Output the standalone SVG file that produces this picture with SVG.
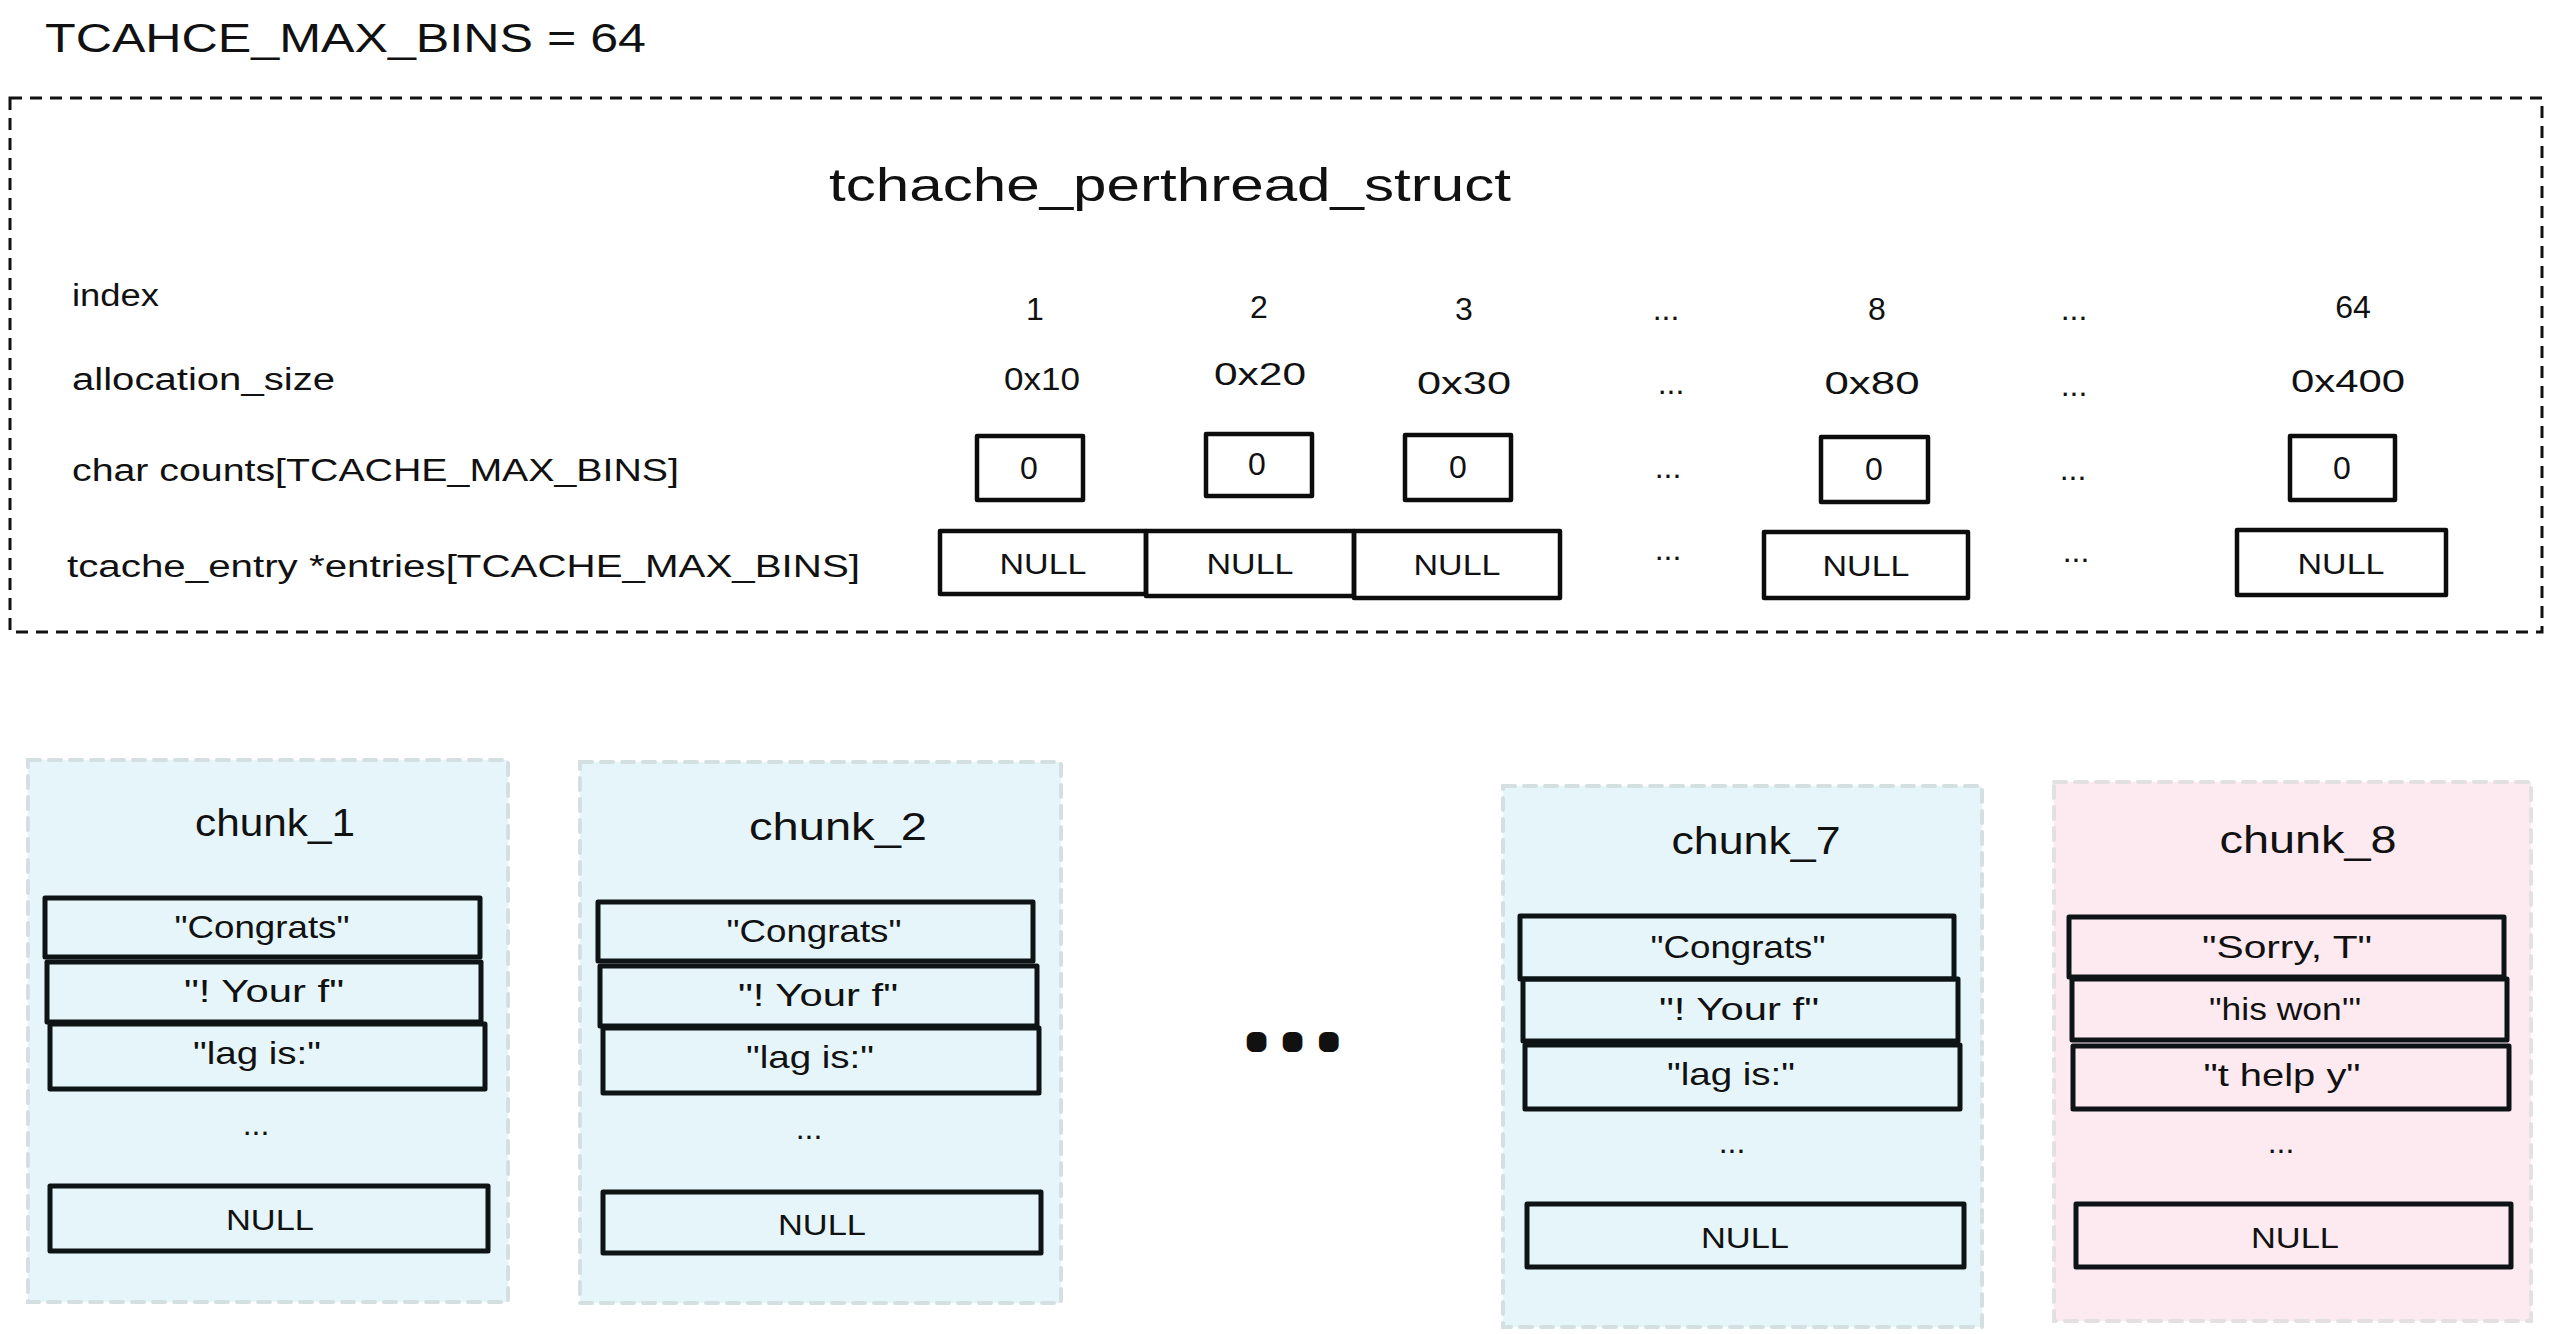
<svg xmlns="http://www.w3.org/2000/svg" width="2550" height="1334" viewBox="0 0 2550 1334">
<style>
text{font-family:"Liberation Sans","DejaVu Sans",sans-serif;fill:#111}
.lbl{font-size:31px}
.val{font-size:32px;text-anchor:middle}
.nul{font-size:30px;text-anchor:middle}
.dots{font-size:32px;text-anchor:middle}
.box{fill:none;stroke:#0c0c0c;stroke-width:4.5;stroke-linejoin:round}
.row{fill:none;stroke:#0e1416;stroke-width:5;stroke-linejoin:round}
.ttl{font-size:38px;text-anchor:middle}
.str{font-size:32px;text-anchor:middle}
.pb{fill:#e5f5f9;stroke:#d3dfe1;stroke-width:4;stroke-dasharray:12 9;stroke-linecap:round}
.pp{fill:#fceaf0;stroke:#e2e0e1;stroke-width:4;stroke-dasharray:12 9;stroke-linecap:round}
</style>
<rect width="2550" height="1334" fill="#ffffff"/>
<g id="max-bins">
<text x="45" y="52" font-size="40" textLength="601" lengthAdjust="spacingAndGlyphs">TCAHCE_MAX_BINS = 64</text>
</g>
<g id="tcache-struct">
<rect x="10" y="98" width="2532" height="534" fill="none" stroke="#111" stroke-width="3" stroke-dasharray="12 8"/>
<text x="829" y="201" font-size="46" textLength="682" lengthAdjust="spacingAndGlyphs">tchache_perthread_struct</text>
<text class="lbl" x="72" y="306" textLength="87" lengthAdjust="spacingAndGlyphs">index</text>
<text class="lbl" x="72" y="390" textLength="263" lengthAdjust="spacingAndGlyphs">allocation_size</text>
<text class="lbl" x="72" y="481" textLength="607" lengthAdjust="spacingAndGlyphs">char counts[TCACHE_MAX_BINS]</text>
<text class="lbl" x="67" y="577" textLength="793" lengthAdjust="spacingAndGlyphs">tcache_entry *entries[TCACHE_MAX_BINS]</text>
</g>
<g id="index-row">
<text class="val" x="1035" y="320">1</text>
<text class="val" x="1259" y="318">2</text>
<text class="val" x="1464" y="320">3</text>
<text class="dots" x="1666" y="320">...</text>
<text class="val" x="1877" y="320">8</text>
<text class="dots" x="2074" y="320">...</text>
<text class="val" x="2353" y="318">64</text>
</g>
<g id="size-row">
<text class="val" x="1042" y="390" textLength="76" lengthAdjust="spacingAndGlyphs">0x10</text>
<text class="val" x="1260" y="385" textLength="92" lengthAdjust="spacingAndGlyphs">0x20</text>
<text class="val" x="1464" y="394" textLength="94" lengthAdjust="spacingAndGlyphs">0x30</text>
<text class="dots" x="1671" y="394">...</text>
<text class="val" x="1872" y="394" textLength="95" lengthAdjust="spacingAndGlyphs">0x80</text>
<text class="dots" x="2074" y="396">...</text>
<text class="val" x="2348" y="392" textLength="114" lengthAdjust="spacingAndGlyphs">0x400</text>
</g>
<g id="counts-row">
<g id="count-1"><rect class="box" x="977" y="436" width="106" height="64"/><text class="val" x="1029" y="479">0</text></g>
<g id="count-2"><rect class="box" x="1206" y="434" width="106" height="62"/><text class="val" x="1257" y="475">0</text></g>
<g id="count-3"><rect class="box" x="1405" y="435" width="106" height="65"/><text class="val" x="1458" y="478">0</text></g>
<text class="dots" x="1668" y="478">...</text>
<g id="count-8"><rect class="box" x="1821" y="437" width="107" height="65"/><text class="val" x="1874" y="480">0</text></g>
<text class="dots" x="2073" y="480">...</text>
<g id="count-64"><rect class="box" x="2290" y="436" width="105" height="64"/><text class="val" x="2342" y="479">0</text></g>
</g>
<g id="entries-row">
<g id="entry-1"><rect class="box" x="940" y="531" width="206" height="63"/><text class="nul" x="1043" y="574" textLength="87" lengthAdjust="spacingAndGlyphs">NULL</text></g>
<g id="entry-2"><rect class="box" x="1146" y="531" width="208" height="65"/><text class="nul" x="1250" y="574" textLength="87" lengthAdjust="spacingAndGlyphs">NULL</text></g>
<g id="entry-3"><rect class="box" x="1354" y="531" width="206" height="67"/><text class="nul" x="1457" y="575" textLength="87" lengthAdjust="spacingAndGlyphs">NULL</text></g>
<text class="dots" x="1668" y="560">...</text>
<g id="entry-8"><rect class="box" x="1764" y="532" width="204" height="66"/><text class="nul" x="1866" y="576" textLength="87" lengthAdjust="spacingAndGlyphs">NULL</text></g>
<text class="dots" x="2076" y="562">...</text>
<g id="entry-64"><rect class="box" x="2237" y="530" width="209" height="65"/><text class="nul" x="2341" y="574" textLength="87" lengthAdjust="spacingAndGlyphs">NULL</text></g>
</g>
<g id="chunk-1">
<rect class="pb" x="28" y="760" width="480" height="542"/>
<text class="ttl" x="275" y="836" textLength="160" lengthAdjust="spacingAndGlyphs">chunk_1</text>
<rect class="row" x="45" y="898" width="435" height="59"/><text class="str" x="262" y="938" textLength="175" lengthAdjust="spacingAndGlyphs">"Congrats"</text>
<rect class="row" x="47" y="962" width="434" height="60"/><text class="str" x="264" y="1002" textLength="160" lengthAdjust="spacingAndGlyphs">"! Your f"</text>
<rect class="row" x="50" y="1024" width="435" height="65"/><text class="str" x="257" y="1064" textLength="128" lengthAdjust="spacingAndGlyphs">"lag is:"</text>
<text class="dots" x="256" y="1135">...</text>
<rect class="row" x="50" y="1186" width="438" height="65"/><text class="nul" x="270" y="1230" textLength="88" lengthAdjust="spacingAndGlyphs">NULL</text>
</g>
<g id="chunk-2">
<rect class="pb" x="580" y="762" width="481" height="541"/>
<text class="ttl" x="838" y="840" textLength="178" lengthAdjust="spacingAndGlyphs">chunk_2</text>
<rect class="row" x="598" y="902" width="435" height="59"/><text class="str" x="814" y="942" textLength="175" lengthAdjust="spacingAndGlyphs">"Congrats"</text>
<rect class="row" x="600" y="966" width="437" height="60"/><text class="str" x="818" y="1006" textLength="160" lengthAdjust="spacingAndGlyphs">"! Your f"</text>
<rect class="row" x="603" y="1028" width="436" height="65"/><text class="str" x="810" y="1068" textLength="128" lengthAdjust="spacingAndGlyphs">"lag is:"</text>
<text class="dots" x="809" y="1139">...</text>
<rect class="row" x="603" y="1192" width="438" height="61"/><text class="nul" x="822" y="1235" textLength="88" lengthAdjust="spacingAndGlyphs">NULL</text>
</g>
<g id="ellipsis">
<text x="1251" y="1045" font-size="40" font-weight="bold" letter-spacing="25" stroke="#111" stroke-width="14" stroke-linejoin="round">...</text>
</g>
<g id="chunk-7">
<rect class="pb" x="1503" y="786" width="479" height="541"/>
<text class="ttl" x="1756" y="854" textLength="169" lengthAdjust="spacingAndGlyphs">chunk_7</text>
<rect class="row" x="1520" y="916" width="434" height="63"/><text class="str" x="1738" y="958" textLength="175" lengthAdjust="spacingAndGlyphs">"Congrats"</text>
<rect class="row" x="1523" y="979" width="435" height="62"/><text class="str" x="1739" y="1020" textLength="160" lengthAdjust="spacingAndGlyphs">"! Your f"</text>
<rect class="row" x="1525" y="1045" width="435" height="64"/><text class="str" x="1731" y="1085" textLength="128" lengthAdjust="spacingAndGlyphs">"lag is:"</text>
<text class="dots" x="1732" y="1153">...</text>
<rect class="row" x="1527" y="1204" width="437" height="63"/><text class="nul" x="1745" y="1248" textLength="88" lengthAdjust="spacingAndGlyphs">NULL</text>
</g>
<g id="chunk-8">
<rect class="pp" x="2054" y="782" width="477" height="539"/>
<text class="ttl" x="2308" y="853" textLength="177" lengthAdjust="spacingAndGlyphs">chunk_8</text>
<rect class="row" x="2069" y="917" width="435" height="60"/><text class="str" x="2287" y="958" textLength="170" lengthAdjust="spacingAndGlyphs">"Sorry, T"</text>
<rect class="row" x="2072" y="979" width="435" height="61"/><text class="str" x="2285" y="1020" textLength="152" lengthAdjust="spacingAndGlyphs">"his won'"</text>
<rect class="row" x="2073" y="1046" width="436" height="63"/><text class="str" x="2282" y="1086" textLength="157" lengthAdjust="spacingAndGlyphs">"t help y"</text>
<text class="dots" x="2281" y="1153">...</text>
<rect class="row" x="2076" y="1204" width="435" height="63"/><text class="nul" x="2295" y="1248" textLength="88" lengthAdjust="spacingAndGlyphs">NULL</text>
</g>
</svg>
